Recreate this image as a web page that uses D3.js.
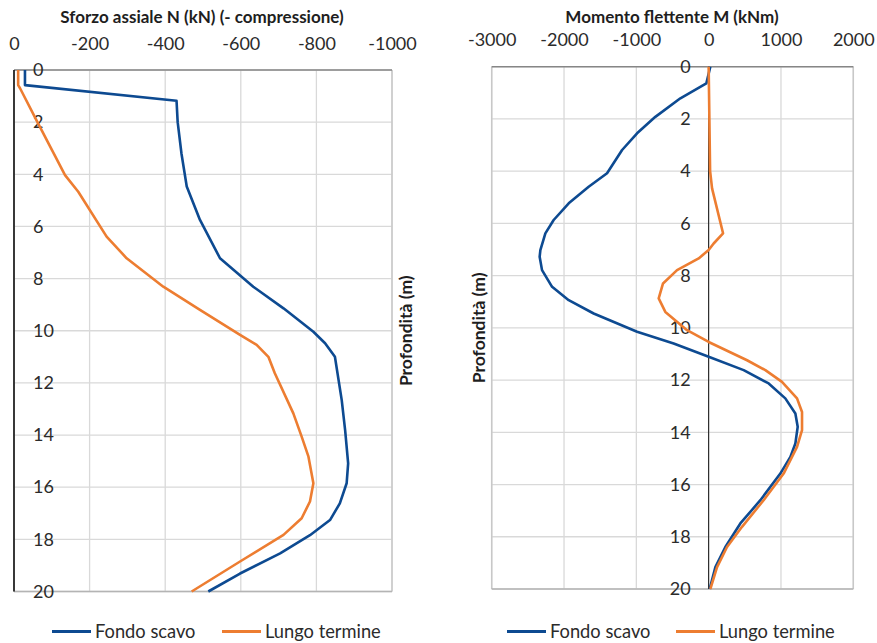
<!DOCTYPE html>
<html>
<head>
<meta charset="utf-8">
<script src="https://cdn.jsdelivr.net/npm/d3@7/dist/d3.min.js"></script>
<style>
  html, body { margin: 0; padding: 0; background: #fff; }
  svg { display: block; font-family: Lato, "Open Sans", sans-serif; }
</style>
</head>
<body>
<svg id="chart" width="877" height="643"></svg>
<script>
// Axial force N (kN) along the pile depth
const depthN_fondo = [0, 0.58, 1.18, 2.0, 3.2, 4.47, 5.75, 7.22, 8.31, 9.14, 10.04, 10.48, 11.0, 12.66, 13.81, 15.09, 15.85, 16.62, 17.26, 17.84, 18.54, 19.31, 20];
const N_fondo      = [-29, -29, -430, -433, -443, -457, -492, -545, -633, -713, -792, -823, -849, -867, -876, -884, -880, -862, -836, -783, -704, -598, -514];
const depthN_lungo = [0, 0.58, 0.7, 2.0, 4.03, 4.67, 6.39, 7.22, 8.31, 9.2, 10.16, 10.54, 11.0, 11.63, 13.17, 14.06, 14.83, 15.85, 16.55, 17.19, 17.83, 18.85, 20];
const N_lungo      = [-11, -11, -16, -62, -135, -170, -245, -298, -395, -492, -598, -642, -673, -690, -739, -761, -779, -792, -783, -761, -713, -598, -470];

// Bending moment M (kNm) along the pile depth
const depthM_fondo = [0, 0.64, 1.21, 1.92, 2.55, 3.19, 4.08, 4.6, 5.23, 5.87, 6.38, 7.02, 7.28, 7.79, 8.43, 8.94, 9.45, 10.15, 10.6, 11.11, 11.62, 12.13, 12.7, 13.28, 13.79, 14.43, 14.94, 15.58, 16.6, 17.49, 18.39, 19.16, 20];
const M_fondo      = [23, -32, -391, -737, -990, -1197, -1405, -1659, -1935, -2143, -2258, -2327, -2337, -2304, -2165, -1935, -1590, -990, -484, 0, 484, 830, 1060, 1199, 1231, 1199, 1130, 991, 715, 438, 231, 93, 14];
const depthM_lungo = [0, 2, 4, 4.66, 6.38, 6.77, 7.02, 7.34, 7.79, 8.3, 8.87, 9.39, 10.09, 10.54, 11.24, 11.62, 12.07, 12.7, 13.22, 13.92, 14.56, 15.58, 16.6, 17.62, 18.39, 19.16, 20];
const M_lungo      = [0, 10, 20, 47, 199, 69, 0, -138, -437, -631, -691, -599, -299, 0, 531, 784, 1014, 1222, 1291, 1291, 1222, 1037, 760, 461, 254, 116, 23];

// Tick labels
const ticksN = [0, -200, -400, -600, -800, -1000];
const ticksM = [-3000, -2000, -1000, 0, 1000, 2000];
const ticksDepth = [0, 2, 4, 6, 8, 10, 12, 14, 16, 18, 20];

const seriesNames = ["Fondo scavo", "Lungo termine"];
const colors = ["#0d4a91", "#ed7d31"];

const svg = d3.select("#chart");

function drawPanel(opts) {
  const { x, y, xTicks, title, titleX, zeroWidth, yLabelSide, yTitleX, series } = opts;
  const g = svg.append("g");
  const [x0, x1] = d3.extent(x.range());
  const [y0, y1] = y.range();

  // vertical grid
  g.append("g").selectAll("line").data(xTicks).join("line")
    .attr("x1", d => x(d)).attr("x2", d => x(d))
    .attr("y1", y0).attr("y2", y1)
    .attr("stroke", "#d9d9d9").attr("stroke-width", 1.3);
  // horizontal grid
  g.append("g").selectAll("line").data(ticksDepth).join("line")
    .attr("x1", x0).attr("x2", x1)
    .attr("y1", d => y(d)).attr("y2", d => y(d))
    .attr("stroke", "#d9d9d9").attr("stroke-width", 1.3);
  // outer frame sides
  g.append("line").attr("x1", x1).attr("x2", x1).attr("y1", y0).attr("y2", y1)
    .attr("stroke", "#c8c8c8").attr("stroke-width", 1.5);
  g.append("line").attr("x1", x0).attr("x2", x0).attr("y1", y0).attr("y2", y1)
    .attr("stroke", "#c8c8c8").attr("stroke-width", 1.5);
  g.append("line").attr("x1", x0).attr("x2", x1).attr("y1", y1).attr("y2", y1)
    .attr("stroke", "#b4b4b4").attr("stroke-width", 1.5);
  // horizontal value axis along the top
  g.append("line").attr("x1", x0).attr("x2", x1).attr("y1", y0).attr("y2", y0)
    .attr("stroke", "#868686").attr("stroke-width", 1.5);

  // depth axis line at zero
  g.append("line").attr("x1", x(0)).attr("x2", x(0)).attr("y1", y0).attr("y2", y1)
    .attr("stroke", "#111").attr("stroke-width", zeroWidth);

  // top tick labels (plain hyphen for negatives)
  const xAxis = d3.axisTop(x).tickValues(xTicks).tickSize(0).tickPadding(20.5).tickFormat(d => String(d));
  const gx = g.append("g").attr("transform", `translate(0,${y0})`).call(xAxis);
  gx.select(".domain").remove();
  gx.selectAll("text").attr("font-size", 18).attr("fill", "#2b2b2b").attr("font-family", "Lato, sans-serif");

  // depth tick labels
  const yAxis = (yLabelSide === "right" ? d3.axisRight(y) : d3.axisLeft(y))
    .tickValues(ticksDepth).tickSize(0).tickPadding(yLabelSide === "right" ? 19 : 18);
  const gy = g.append("g").attr("transform", `translate(${x(0)},0)`).call(yAxis);
  gy.select(".domain").remove();
  gy.selectAll("text").attr("font-size", 18).attr("fill", "#2b2b2b").attr("font-family", "Lato, sans-serif");

  // lines
  const line = d3.line().x(d => x(d[0])).y(d => y(d[1]));
  series.forEach((s, i) => {
    g.append("path")
      .datum(d3.zip(s.values, s.depths))
      .attr("fill", "none")
      .attr("stroke", colors[i])
      .attr("stroke-width", 2.6)
      .attr("stroke-linejoin", "round")
      .attr("d", line);
  });

  // titles
  g.append("text").attr("x", titleX).attr("y", 23)
    .attr("text-anchor", "middle").attr("font-size", 17).attr("font-weight", "bold")
    .attr("fill", "#1e1e1e").attr("font-family", "Lato, sans-serif").text(title);
  g.append("text")
    .attr("transform", `translate(${yTitleX},${(y0 + y1) / 2}) rotate(-90)`)
    .attr("text-anchor", "middle").attr("font-size", 17.5).attr("font-weight", "bold")
    .attr("fill", "#1e1e1e").attr("font-family", "Lato, sans-serif").text("Profondità (m)");
}

function drawLegend(items) {
  items.forEach((it, i) => {
    const g = svg.append("g");
    g.append("line").attr("x1", it.x).attr("x2", it.x + 39).attr("y1", 631.5).attr("y2", 631.5)
      .attr("stroke", colors[i]).attr("stroke-width", 2.8);
    g.append("text").attr("x", it.x + 43).attr("y", 638)
      .attr("font-size", 18.3).attr("fill", "#2b2b2b").attr("font-family", "Lato, sans-serif")
      .text(seriesNames[i]);
  });
}

// Left panel: axial force
const xN = d3.scaleLinear().domain([0, -1000]).range([14, 392]);
const yN = d3.scaleLinear().domain([0, 20]).range([70, 591.5]);
drawPanel({
  x: xN, y: yN, xTicks: ticksN,
  title: "Sforzo assiale N (kN) (- compressione)", titleX: 202,
  zeroWidth: 1.6, yLabelSide: "right", yTitleX: 412,
  series: [
    { depths: depthN_fondo, values: N_fondo },
    { depths: depthN_lungo, values: N_lungo }
  ]
});
drawLegend([{ x: 52 }, { x: 222 }]);

// Right panel: bending moment
const xM = d3.scaleLinear().domain([-3000, 2000]).range([491.7, 853.3]);
const yM = d3.scaleLinear().domain([0, 20]).range([66.7, 589]);
drawPanel({
  x: xM, y: yM, xTicks: ticksM,
  title: "Momento flettente M (kNm)", titleX: 672,
  zeroWidth: 1, yLabelSide: "left", yTitleX: 485,
  series: [
    { depths: depthM_fondo, values: M_fondo },
    { depths: depthM_lungo, values: M_lungo }
  ]
});
drawLegend([{ x: 507 }, { x: 676 }]);
</script>
</body>
</html>
